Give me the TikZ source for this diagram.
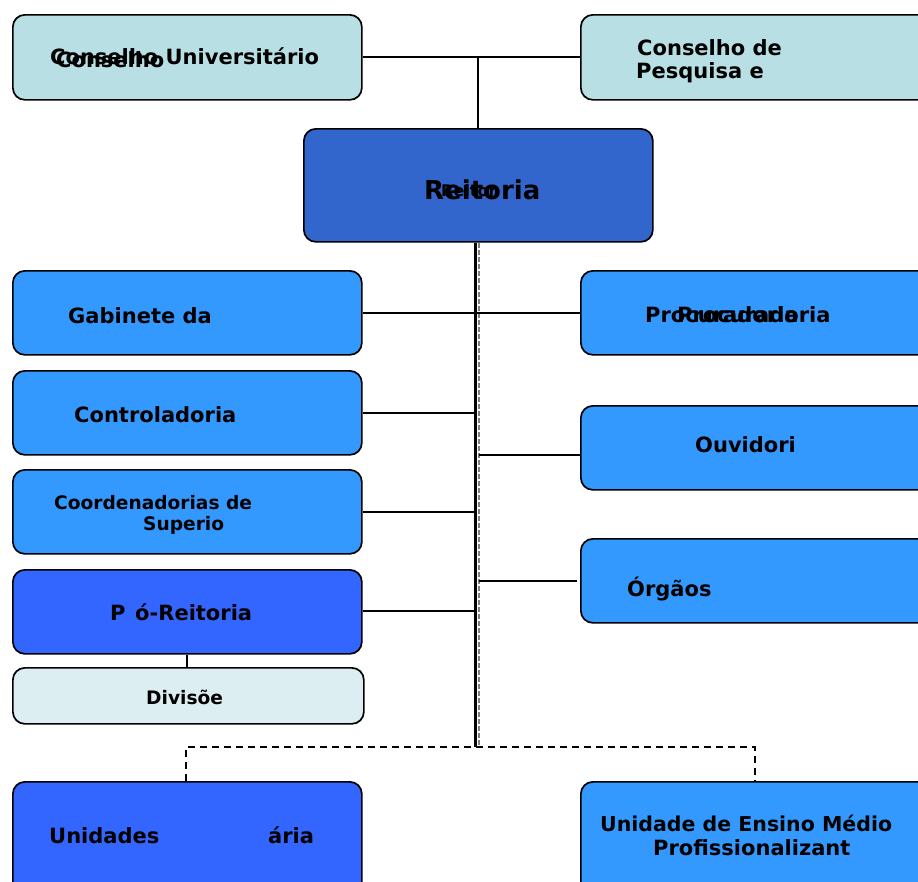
\documentclass[tikz,border=0pt]{standalone}
\usepackage{fontspec}
\setmainfont{DejaVu Sans}
\definecolor{teal1}{HTML}{B8DFE3}
\definecolor{rei}{HTML}{3366CC}
\definecolor{sky}{HTML}{3399FF}
\definecolor{royal}{HTML}{3366FF}
\definecolor{pale}{HTML}{DCEEF1}
\begin{document}
\begin{tikzpicture}[x=1pt,y=-1pt,
  box/.style={draw=black, line width=1.7pt, rounded corners=12pt, anchor=north west, inner sep=0pt, minimum width=349pt, minimum height=84pt},
  lbl/.style={anchor=base west, inner sep=0pt, font=\bfseries\fontsize{21}{23}\selectfont},
  lbls/.style={anchor=base west, inner sep=0pt, font=\bfseries\fontsize{18.6}{20}\selectfont},
  conn/.style={line width=2pt},
  dashconn/.style={line width=2.6pt, dash pattern=on 7pt off 5pt}]
\path[use as bounding box] (0,0) rectangle (918,881);
\clip (0,0) rectangle (918,881);
% boxes
\node[box, fill=teal1, minimum height=85pt] (cu) at (12,14) {};
\node[box, fill=teal1, minimum height=85pt] (cp) at (580,14) {};
\node[box, fill=rei, minimum height=113pt] (rei) at (303,128) {};
\node[box, fill=sky] (gab) at (12,270) {};
\node[box, fill=sky] (ctrl) at (12,370) {};
\node[box, fill=sky] (coord) at (12,469) {};
\node[box, fill=royal] (pro) at (12,569) {};
\node[box, fill=pale, minimum width=351pt, minimum height=56pt] (div) at (12,667) {};
\node[box, fill=royal, minimum height=120pt] (uni) at (12,781) {};
\node[box, fill=sky] (proc) at (580,270) {};
\node[box, fill=sky] (ouv) at (580,405) {};
\node[box, fill=sky] (org) at (580,538) {};
\node[box, fill=sky, minimum height=120pt] (uem) at (580,781) {};
% coordinates
\coordinate (spB) at (475.5,747);
\coordinate (spR) at (479,747);
\coordinate (dv) at (187,660);
\coordinate (bl) at (186,747);
\coordinate (br) at (755,747);
% connectors
\draw[conn] (cu.east) -- (cp.west);
\draw[conn] (rei.north) -- (rei.north |- cu.east);
\draw[gray, line width=1.2pt, dash pattern=on 5pt off 2pt] (rei.south -| spR) -- (spR);
\draw[line width=3.6pt] (rei.south -| spB) -- (spB);
\draw[conn] (gab.east) -- (proc.west);
\draw[conn] (ctrl.east) -- (ctrl.east -| spB);
\draw[conn] ([yshift=-0.5pt]coord.east) -- ([yshift=-0.5pt]coord.east -| spB);
\draw[conn] ([yshift=1pt]pro.east) -- ([yshift=1pt]pro.east -| spB);
\draw[conn] ([yshift=-7pt]ouv.west) -- ([yshift=-7pt]ouv.west -| spR);
\draw[conn] ([xshift=-3pt]org.west) -- (org.west -| spR);
\draw[conn] (dv |- pro.south) -- (dv |- div.north);
\draw[dashconn] (uni.north -| bl) -- (bl) -- (br) -- (uem.north -| br);
% labels
\node[lbl] (t1) at (50,64) {Conselho Universitário};
\node[lbl] (t1b) at (56,67) {Conselho};
\node[lbl] (t2) at (637,55) {Conselho de};
\node[lbl] (t3) at (636,78) {Pesquisa e};
\node[anchor=base west, inner sep=0pt, font=\bfseries\fontsize{26}{28}\selectfont] (t4) at (424,199) {Reitoria};
\node[anchor=base west, inner sep=0pt, font=\bfseries\fontsize{16}{18}\selectfont] (t4b) at (441,196) {Reitor};
\node[lbl] (t5) at (68,323) {Gabinete da};
\node[lbl] (t6) at (74,422) {Controladoria};
\node[lbls] (t7) at (54,509) {Coordenadorias de};
\node[lbls] (t8) at (143,530) {Superio};
\node[lbl] (t9) at (110,620) {P};
\node[lbl] (t9b) at (135,620) {ó-Reitoria};
\node[lbls] (t10) at (146,704) {Divisõe};
\node[lbl] (t11) at (49,843) {Unidades};
\node[lbl] (t11b) at (268,843) {ária};
\node[lbl] (t12) at (645,322) {Procuradoria};
\node[lbl] (t12b) at (677,322) {Procuradoria};
\node[lbl] (t13) at (695,452) {Ouvidori};
\node[lbl] (t14) at (627,596) {Órgãos};
\node[anchor=base west, inner sep=0pt, font=\bfseries\fontsize{20.5}{23}\selectfont] (t15) at (600,831) {Unidade de Ensino Médio};
\node[lbl] (t16) at (653,855) {Profissionalizant};
\end{tikzpicture}
\end{document}
